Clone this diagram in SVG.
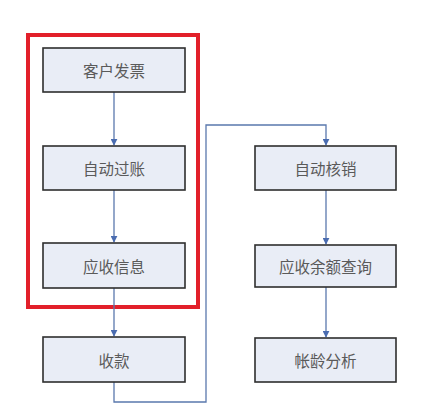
<svg xmlns="http://www.w3.org/2000/svg" width="442" height="418" viewBox="0 0 442 418">
<style>
.box{fill:#e9edf6;stroke:#2e2e2e;stroke-width:1.6}
.lbl{font-family:"Noto Sans CJK SC","Noto Sans",sans-serif;font-size:15.5px;fill:#5a5a5a;text-anchor:middle;dominant-baseline:central}
.conn{fill:none;stroke:#5a78ad;stroke-width:1.3}
</style>
<defs>
<marker id="arr" viewBox="0 0 10 10" refX="9" refY="5" markerWidth="7" markerHeight="7" orient="auto" markerUnits="userSpaceOnUse">
<path d="M0,0 L10,5 L0,10 z" fill="#4a6cb0"/>
</marker>
</defs>
<rect width="442" height="418" fill="#ffffff"/>
<rect id="highlight" x="28" y="35" width="170" height="272" fill="none" stroke="#e2202a" stroke-width="4"/>
<g id="connectors">
<line class="conn" x1="114" y1="92" x2="114" y2="145" marker-end="url(#arr)"/>
<line class="conn" x1="114" y1="190" x2="114" y2="242" marker-end="url(#arr)"/>
<line class="conn" x1="114" y1="288" x2="114" y2="336" marker-end="url(#arr)"/>
<polyline class="conn" points="114,382 114,402 206,402 206,125 326,125 326,145" marker-end="url(#arr)"/>
<line class="conn" x1="326" y1="190" x2="326" y2="244" marker-end="url(#arr)"/>
<line class="conn" x1="326" y1="287" x2="326" y2="337" marker-end="url(#arr)"/>
</g>
<g id="n1"><rect class="box" x="43" y="48" width="142" height="44"/><text class="lbl" x="114" y="70">客户发票</text></g>
<g id="n2"><rect class="box" x="43" y="146" width="142" height="44"/><text class="lbl" x="114" y="168">自动过账</text></g>
<g id="n3"><rect class="box" x="43" y="243" width="142" height="45"/><text class="lbl" x="114" y="265.5">应收信息</text></g>
<g id="n4"><rect class="box" x="43" y="337" width="142" height="45"/><text class="lbl" x="114" y="359.5">收款</text></g>
<g id="n5"><rect class="box" x="255" y="146" width="141" height="44"/><text class="lbl" x="325.5" y="168">自动核销</text></g>
<g id="n6"><rect class="box" x="255" y="245" width="141" height="42"/><text class="lbl" x="325.5" y="266">应收余额查询</text></g>
<g id="n7"><rect class="box" x="255" y="338" width="141" height="44"/><text class="lbl" x="325.5" y="360">帐龄分析</text></g>
</svg>
